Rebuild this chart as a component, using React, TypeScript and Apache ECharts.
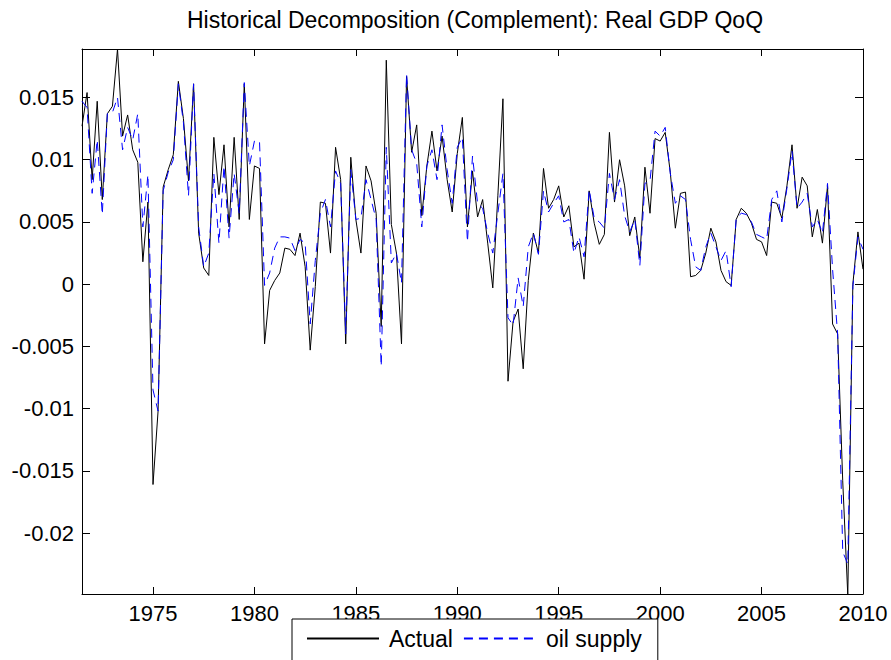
import React, { useEffect, useRef } from "react";
import * as echarts from "echarts";

// Quarterly observations starting 1971 Q3 (plotted at 1971.5) through 2010.0
const startYear = 1971.5;
const quarterStep = 0.25;

const actual = [
  0.0127, 0.0154, 0.0084, 0.0147, 0.0068, 0.0137, 0.0143, 0.0189, 0.0119, 0.0136,
  0.0108, 0.0098, 0.0018, 0.0066, -0.0161, -0.0102, 0.0078, 0.0092, 0.0104, 0.0163,
  0.0133, 0.0083, 0.0161, 0.0041, 0.0013, 0.0007, 0.0118, 0.0072, 0.0112, 0.0046,
  0.0118, 0.0052, 0.0161, 0.0052, 0.0095, 0.0093, -0.0048, -0.0005, 0.0003, 0.0009,
  0.0029, 0.0028, 0.0023, 0.0041, 0.0014, -0.0053, -0.0002, 0.0066, 0.0065, 0.0025,
  0.0110, 0.0084, -0.0048, 0.0102, 0.0052, 0.0025, 0.0095, 0.0083, 0.0057, -0.0034,
  0.0180, 0.0048, 0.0025, -0.0048, 0.0167, 0.0106, 0.0128, 0.0055, 0.0095, 0.0123,
  0.0091, 0.0119, 0.0084, 0.0058, 0.0105, 0.0134, 0.0046, 0.0091, 0.0054, 0.0068,
  0.0033, -0.0003, 0.0071, 0.0149, -0.0078, -0.0030, -0.0020, -0.0068, 0.0003, 0.0041,
  0.0025, 0.0093, 0.0061, 0.0068, 0.0079, 0.0054, 0.0063, 0.0030, 0.0033, 0.0004,
  0.0075, 0.0049, 0.0032, 0.0040, 0.0122, 0.0066, 0.0100, 0.0079, 0.0039, 0.0054,
  0.0021, 0.0094, 0.0057, 0.0117, 0.0115, 0.0122, 0.0090, 0.0045, 0.0073, 0.0074,
  0.0006, 0.0007, 0.0011, 0.0025, 0.0045, 0.0034, 0.0011, 0.0002, -0.0001, 0.0052,
  0.0061, 0.0057, 0.0049, 0.0036, 0.0034, 0.0023, 0.0066, 0.0065, 0.0053, 0.0079,
  0.0112, 0.0061, 0.0086, 0.0079, 0.0038, 0.0060, 0.0033, 0.0079, -0.0032, -0.0040,
  -0.0158, -0.0250, 0.0000, 0.0042, 0.0012,
];

const oilSupply = [
  0.0147, 0.0142, 0.0073, 0.0116, 0.0056, 0.0137, 0.0138, 0.0150, 0.0108, 0.0126,
  0.0116, 0.0137, 0.0046, 0.0088, -0.0085, -0.0102, 0.0075, 0.0090, 0.0100, 0.0161,
  0.0130, 0.0071, 0.0161, 0.0046, 0.0014, 0.0025, 0.0089, 0.0033, 0.0095, 0.0037,
  0.0089, 0.0057, 0.0162, 0.0095, 0.0115, 0.0115, -0.0001, 0.0009, 0.0029, 0.0038,
  0.0038, 0.0037, 0.0027, 0.0036, 0.0033, -0.0032, 0.0019, 0.0057, 0.0068, 0.0046,
  0.0091, 0.0081, -0.0040, 0.0092, 0.0052, 0.0053, 0.0084, 0.0068, 0.0052, -0.0066,
  0.0110, 0.0017, 0.0025, 0.0001, 0.0169, 0.0108, 0.0097, 0.0046, 0.0095, 0.0108,
  0.0084, 0.0128, 0.0092, 0.0065, 0.0110, 0.0118, 0.0034, 0.0103, 0.0065, 0.0061,
  0.0041, 0.0025, 0.0057, 0.0089, -0.0027, -0.0033, 0.0005, -0.0018, 0.0030, 0.0041,
  0.0024, 0.0075, 0.0058, 0.0065, 0.0071, 0.0050, 0.0052, 0.0025, 0.0038, 0.0022,
  0.0076, 0.0053, 0.0050, 0.0045, 0.0089, 0.0068, 0.0084, 0.0055, 0.0042, 0.0052,
  0.0015, 0.0081, 0.0083, 0.0123, 0.0119, 0.0126, 0.0089, 0.0065, 0.0071, 0.0068,
  0.0036, 0.0014, 0.0011, 0.0030, 0.0041, 0.0030, 0.0019, 0.0027, -0.0002, 0.0053,
  0.0057, 0.0056, 0.0050, 0.0040, 0.0038, 0.0036, 0.0068, 0.0075, 0.0050, 0.0077,
  0.0107, 0.0061, 0.0066, 0.0073, 0.0046, 0.0052, 0.0041, 0.0081, 0.0012, -0.0040,
  -0.0215, -0.0225, -0.0002, 0.0038, 0.0028,
];

const xTicks = [1975, 1980, 1985, 1990, 1995, 2000, 2005, 2010];
const yTicks = [-0.02, -0.015, -0.01, -0.005, 0, 0.005, 0.01, 0.015];
const xMin = 1971.5;
const xMax = 2010;
const yMin = -0.0249;
const yMax = 0.0189;

const titleText = "Historical Decomposition (Complement): Real GDP QoQ";
const seriesNames = ["Actual", "oil supply"];

const FONT = "'Liberation Sans', Arial, Helvetica, sans-serif";

export default function App() {
  const ref = useRef<HTMLDivElement>(null);

  useEffect(() => {
    if (!ref.current) return;
    const chart = echarts.init(ref.current, undefined, { renderer: "svg" });

    const toPairs = (arr: number[]) =>
      arr.map((v, i) => [startYear + i * quarterStep, v]);

    const fmtY = (v: number) => {
      const r = parseFloat(v.toFixed(4));
      return r === 0 ? "0" : String(r);
    };

    const axisLineStyle = { color: "#000", width: 1 };

    const xBase = {
      type: "value" as const,
      min: xMin,
      max: xMax,
      splitLine: { show: false },
      axisLine: { show: true, onZero: false, lineStyle: axisLineStyle },
      axisTick: {
        show: true,
        inside: true,
        length: 7,
        customValues: xTicks,
        lineStyle: axisLineStyle,
      },
    };
    const yBase = {
      type: "value" as const,
      min: yMin,
      max: yMax,
      splitLine: { show: false },
      axisLine: { show: true, onZero: false, lineStyle: axisLineStyle },
      axisTick: {
        show: true,
        inside: true,
        length: 8,
        customValues: yTicks,
        lineStyle: axisLineStyle,
      },
    };

    chart.setOption({
      animation: false,
      backgroundColor: "#fff",
      title: {
        text: titleText,
        left: 182,
        top: 3,
        padding: 5,
        textStyle: {
          fontFamily: FONT,
          fontSize: 23,
          fontWeight: "normal",
          color: "#000",
        },
      },
      grid: { left: 82, right: 28, top: 49, bottom: 66, containLabel: false },
      xAxis: [
        {
          ...xBase,
          position: "bottom",
          axisLabel: {
            show: true,
            customValues: xTicks,
            fontFamily: FONT,
            fontSize: 22,
            color: "#000",
            margin: 8,
            formatter: (v: number) => String(Math.round(v)),
          },
        },
        {
          ...xBase,
          position: "top",
          axisLabel: { show: false },
        },
      ],
      yAxis: [
        {
          ...yBase,
          position: "left",
          axisLabel: {
            show: true,
            customValues: yTicks,
            fontFamily: FONT,
            fontSize: 22,
            color: "#000",
            margin: 8,
            formatter: (v: number) => fmtY(v),
          },
        },
        {
          ...yBase,
          position: "right",
          axisLabel: { show: false },
        },
      ],
      legend: {
        data: seriesNames,
        left: 292,
        top: 619,
        orient: "horizontal",
        backgroundColor: "#fff",
        borderColor: "#000",
        borderWidth: 1,
        borderRadius: 0,
        padding: [8, 16, 22, 14],
        itemWidth: 72,
        itemHeight: 14,
        itemGap: 10,
        itemStyle: { opacity: 0 },
        textStyle: {
          fontFamily: FONT,
          fontSize: 23,
          color: "#000",
          padding: [0, 0, 0, 5],
        },
      },
      series: [
        {
          name: seriesNames[0],
          type: "line",
          xAxisIndex: 0,
          yAxisIndex: 0,
          data: toPairs(actual),
          showSymbol: false,
          symbol: "none",
          lineStyle: { color: "#000", width: 1, type: "solid" },
          itemStyle: { color: "#000" },
        },
        {
          name: seriesNames[1],
          type: "line",
          xAxisIndex: 0,
          yAxisIndex: 0,
          data: toPairs(oilSupply),
          showSymbol: false,
          symbol: "none",
          lineStyle: { color: "#0000ff", width: 1, type: [9, 6] },
          itemStyle: { color: "#0000ff" },
        },
      ],
    });

    return () => chart.dispose();
  }, []);

  return (
    <div
      ref={ref}
      style={{ position: "fixed", left: 0, top: 0, width: 891, height: 660 }}
    />
  );
}
